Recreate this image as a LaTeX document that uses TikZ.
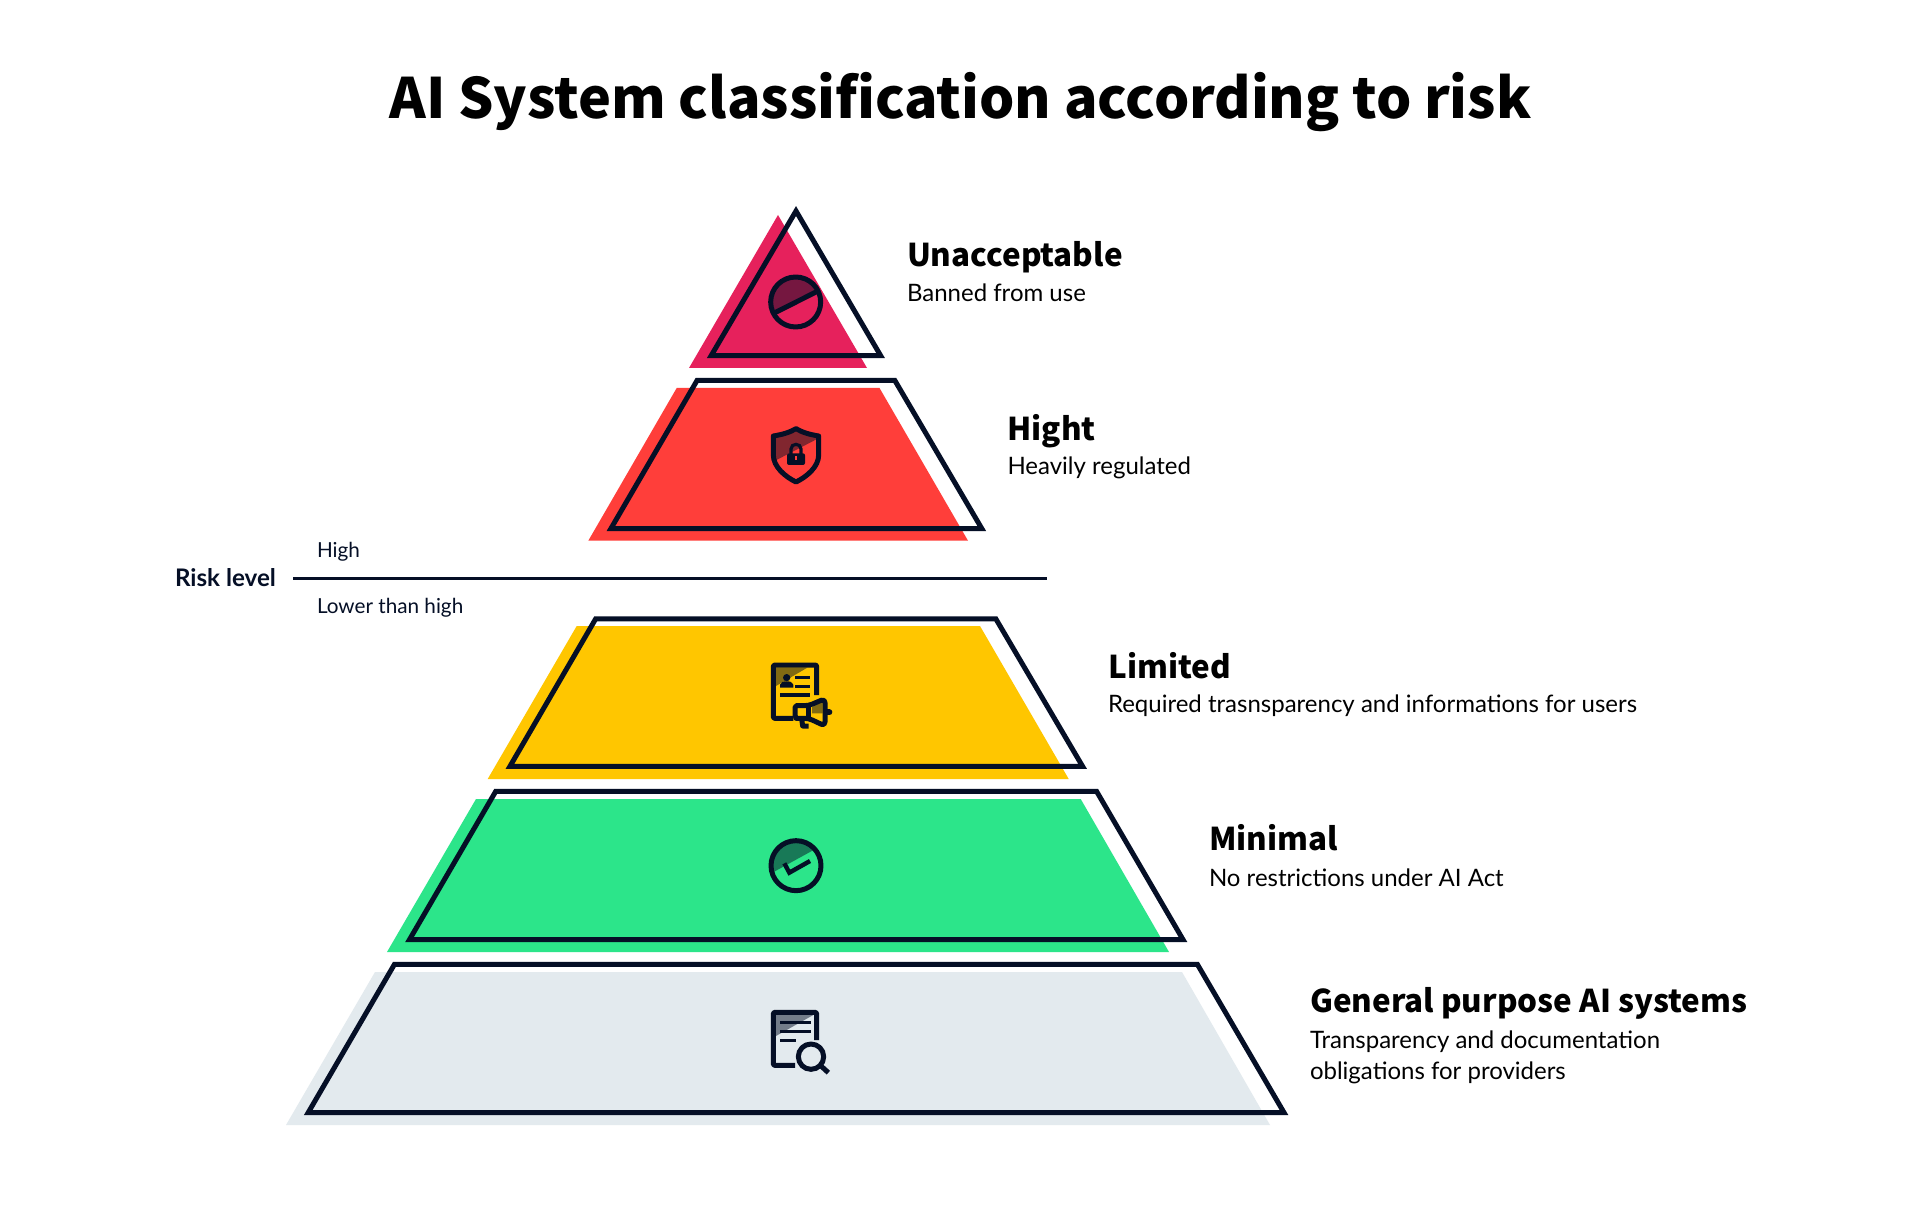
\documentclass[tikz,border=0pt]{standalone}
\usepackage{fontspec}
\setmainfont{Lato}
\newfontfamily\headfont{Noto Sans CJK SC}
\usetikzlibrary{calc}
\definecolor{navy}{HTML}{050F26}
\definecolor{crimson}{HTML}{E6215C}
\definecolor{redf}{HTML}{FF3E3A}
\definecolor{yellowf}{HTML}{FFC600}
\definecolor{greenf}{HTML}{2CE58A}
\definecolor{greyf}{HTML}{E3EAEE}
\tikzset{
  outl/.style={draw=navy,line width=2.5pt,line join=miter,miter limit=10},
  icon/.style={draw=navy,line width=2.5pt,line join=round},
  thin icon/.style={draw=navy,line width=1.6pt},
  shade part/.style={fill=navy,fill opacity=0.5,draw=none},
  txt/.style={anchor=base west,inner sep=0pt,outer sep=0pt},
  titletxt/.style={txt,font=\headfont\bfseries\fontsize{27.8}{33}\selectfont,text=black},
  headtxt/.style={txt,font=\headfont\bfseries\fontsize{15.7}{19}\selectfont,text=black},
  subtxt/.style={txt,font=\fontsize{12}{15.7}\selectfont,text=black},
  risktxt/.style={txt,font=\fontsize{10.35}{12}\selectfont,text=navy},
  riskhead/.style={txt,font=\bfseries\fontsize{12.1}{14}\selectfont,text=navy},
}
\begin{document}
\begin{tikzpicture}[x=0.5pt,y=-0.5pt]
\useasboundingbox (0,0) rectangle (1920,1218);
\fill[white] (0,0) rectangle (1920,1218);

\node[titletxt] (title) at (389.5,118.3) {AI System classification according to risk};

% Tier 1
\fill[crimson] (778,215) -- (689,368) -- (867,368) -- cycle;
\begin{scope}[shift={(680,190)},scale=1/3]
  \begin{scope}
    \clip (347,336) circle (75);
    \path[shade part] (260,380) -- (430,292) -- (430,240) -- (260,240) -- cycle;
  \end{scope}
  \draw[icon] (347,336) circle (75);
  \draw[navy,line width=2.5pt] (285,368) -- (410,305);
\end{scope}
\draw[outl] (796,211) -- (880.6,355.6) -- (711.2,355.6) -- cycle;

% Tier 2
\fill[redf] (588.3,540.7) -- (676.7,388) -- (879.5,388) -- (968,540.7) -- cycle;
\begin{scope}[shift={(740,410)},scale=1/3]
  \begin{scope}
    \clip (168,56) .. controls (148,68) and (125,74) .. (100,78) -- (100,135) .. controls (100,170) and (135,200) .. (168,216) .. controls (201,200) and (236,170) .. (236,135) -- (236,78) .. controls (211,74) and (188,68) .. (168,56) -- cycle;
    \path[shade part] (90,160) -- (245,80) -- (245,40) -- (90,40) -- cycle;
  \end{scope}
  \draw[icon] (168,56) .. controls (148,68) and (125,74) .. (100,78) -- (100,135) .. controls (100,170) and (135,200) .. (168,216) .. controls (201,200) and (236,170) .. (236,135) -- (236,78) .. controls (211,74) and (188,68) .. (168,56) -- cycle;
  \fill[navy,rounded corners=1pt] (141,130) rectangle (195,165);
  \draw[navy,line width=1.6pt] (153,132) -- (153,117) .. controls (153,98.5) and (183,98.5) .. (183,117) -- (183,132);
  \fill[redf] (165,138) rectangle (171,150);
\end{scope}
\draw[outl] (610.9,528.6) -- (697.1,380.4) -- (894.8,380.4) -- (981.8,528.6) -- cycle;

% Risk line
\coordinate (riskL) at (293,578.4);
\coordinate (riskR) at (1047,578.4);
\draw[navy,line width=1.15pt] (riskL) -- (riskR);
\node[riskhead] (risk) at (175,587) {Risk level};
\node[risktxt] (rhigh) at (317,557.7) {High};
\node[risktxt] (rlow) at (317,613.7) {Lower than high};

% Tier 3
\fill[yellowf] (487.7,779) -- (576.7,626) -- (980,626) -- (1068.7,779) -- cycle;
\begin{scope}[shift={(750,650)},scale=1/3]
  \path[shade part] (78,53) -- (172,53) -- (78,108) -- cycle;
  \path[shade part] (186,172) -- (218,150) -- (218,190) -- (186,190) -- cycle;
  \draw[icon,rounded corners=0.6pt] (200,135) -- (200,45) -- (70,45) -- (70,205) -- (130,205);
  \fill[navy] (110,83) circle (11);
  \fill[navy] (90,113) -- (90,104) .. controls (92,96) and (100,94) .. (110,94) .. controls (120,94) and (128,96) .. (130,104) -- (130,113) -- cycle;
  \draw[thin icon] (135,83) -- (180,83);
  \draw[thin icon] (135,109) -- (180,109);
  \draw[thin icon] (90,135) -- (180,135);
  \draw[icon,rounded corners=2pt] (176,167) -- (225,146) -- (225,228) -- (176,205) -- (150,205) .. controls (140,205) and (135,197) .. (135,185) .. controls (135,173) and (140,167) .. (150,167) -- cycle;
  \draw[icon] (176,167) -- (176,205);
  \draw[icon] (155,207) -- (158,228) -- (176,228);
  \draw[navy,line width=3pt,line cap=round] (228,187) -- (238,187);
\end{scope}
\draw[outl] (509.9,766.4) -- (595.7,618.8) -- (995.8,618.8) -- (1082.6,766.4) -- cycle;

% Tier 4
\fill[greenf] (387,952) -- (476,799) -- (1080.7,799) -- (1169,952) -- cycle;
\begin{scope}[shift={(750,830)},scale=1/3]
  \begin{scope}
    \clip (138,107) circle (75);
    \path[shade part] (60,132) -- (200,55) -- (200,20) -- (60,20) -- cycle;
  \end{scope}
  \draw[icon] (138,107) circle (75);
  \draw[navy,line width=2.2pt,line join=miter] (103,100) -- (118,128) -- (180,93);
\end{scope}
\draw[outl] (409.5,939.6) -- (495.7,791.4) -- (1096.6,791.4) -- (1183,939.6) -- cycle;

% Tier 5
\fill[greyf] (286,1125) -- (375,972) -- (1182,972) -- (1270,1125) -- cycle;
\begin{scope}[shift={(750,1000)},scale=1/3]
  \path[shade part] (78,45) -- (190,45) -- (78,108) -- cycle;
  \draw[icon,rounded corners=0.6pt] (200,120) -- (200,37) -- (70,37) -- (70,196) -- (135,196);
  \draw[thin icon] (90,68) -- (183,68);
  \draw[thin icon] (90,95) -- (183,95);
  \draw[thin icon] (90,122) -- (138,122);
  \draw[icon] (183,170) circle (38);
  \draw[navy,line width=2.5pt] (212,197) -- (235,218);
\end{scope}
\draw[outl] (308.2,1112.6) -- (394.4,964.4) -- (1197.4,964.4) -- (1284,1112.6) -- cycle;

% Labels
\node[headtxt] (h1) at (907,266.5) {Unacceptable};
\node[subtxt] (s1) at (907,301.7) {Banned from use};
\node[headtxt] (h2) at (1007.5,440.2) {Hight};
\node[subtxt] (s2) at (1007.5,475) {Heavily regulated};
\node[headtxt] (h3) at (1108.5,678) {Limited};
\node[subtxt] (s3) at (1108,712.7) {Required trasnsparency and informations for users};
\node[headtxt] (h4) at (1209,850.6) {Minimal};
\node[subtxt] (s4) at (1209,886) {No restrictions under AI Act};
\node[headtxt] (h5) at (1310,1012.5) {General purpose AI systems};
\node[subtxt] (s5) at (1310,1048) {Transparency and documentation};
\node[subtxt] (s5b) at (1310,1079.5) {obligations for providers};
\end{tikzpicture}
\end{document}
